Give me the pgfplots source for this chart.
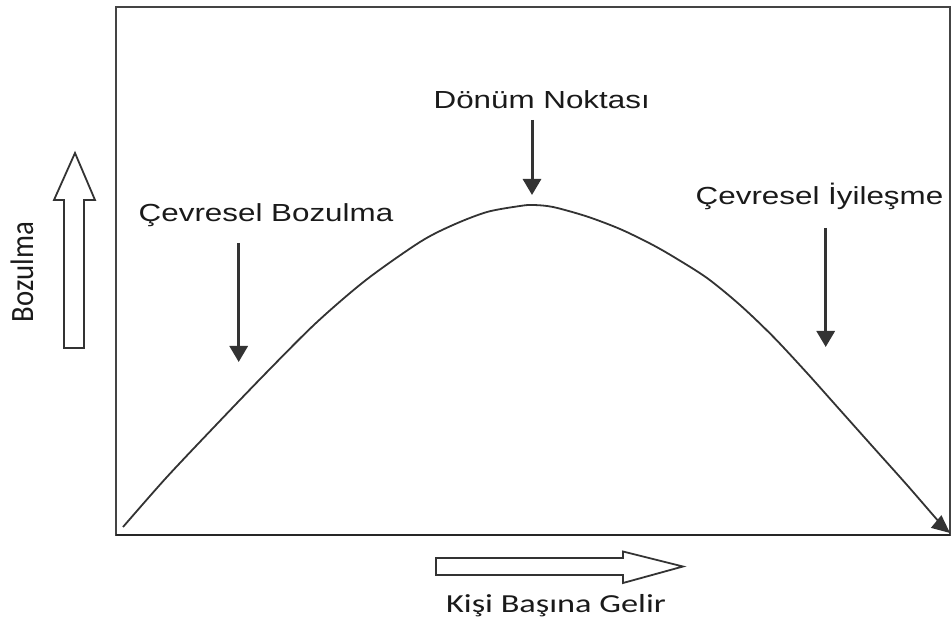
\documentclass[border=0pt]{standalone}
\usepackage{fontspec}
\setmainfont{Liberation Sans}
\newfontfamily\arialx[FakeStretch=1.27]{Liberation Sans}
\newfontfamily\calx[FakeStretch=1.32]{Carlito}
\newfontfamily\calr{Carlito}
\usepackage{pgfplots}
\pgfplotsset{compat=1.18}
\usetikzlibrary{arrows.meta}
\definecolor{ink}{HTML}{1A1A1A}
\definecolor{frame}{HTML}{444444}
\definecolor{curve}{HTML}{333333}
\begin{document}
\begin{tikzpicture}
\begin{axis}[
  scale only axis,
  width=417pt, height=264pt,
  xmin=116, xmax=950, ymin=95, ymax=623,
  axis lines=box,
  xtick=\empty, ytick=\empty,
  axis line style={draw=frame, line width=1pt},
  clip=false,
]
\addplot[curve, line width=0.9pt, smooth, tension=0.5, -{Triangle[length=9pt,width=8pt]}] coordinates {
 (123,103) (166,152) (216,205) (266,257) (316,307) (366,350) (420,388)
 (453,405) (487,418) (520,424) (533,425) (553,423) (587,413.5) (620,401)
 (650,386.5) (673,373.5) (707,352) (740,325) (773,293.5) (807,257)
 (840,220) (873,183) (907,145) (940,107) (950,97)
};
% thicker bottom line
\draw[black!85, line width=1.3pt] (axis cs:116,95) -- (axis cs:950,95);
% pointer arrows
\draw[curve, line width=1.5pt, -{Triangle[length=8pt,width=9pt]}] (axis cs:532,510) -- (axis cs:532,435);
\draw[curve, line width=1.5pt, -{Triangle[length=8pt,width=9pt]}] (axis cs:238.7,387) -- (axis cs:238.7,268);
\draw[curve, line width=1.5pt, -{Triangle[length=8pt,width=9pt]}] (axis cs:825.7,402) -- (axis cs:825.7,283);
% labels
\node[anchor=base, text=ink, inner sep=0pt, font=\arialx\fontsize{12.35}{14}\selectfont] at (axis cs:541.7,521) {Dönüm Noktası};
\node[anchor=base, text=ink, inner sep=0pt, font=\arialx\fontsize{12.35}{14}\selectfont] at (axis cs:266,408) {Çevresel Bozulma};
\node[anchor=base, text=ink, inner sep=0pt, font=\arialx\fontsize{12.35}{14}\selectfont] at (axis cs:819.5,425) {Çevresel İyileşme};
\node[anchor=base, text=ink, inner sep=0pt, font=\calx\fontsize{13}{15}\selectfont] at (axis cs:556,18) {Kişi Başına Gelir};
\node[rotate=90, anchor=center, text=ink, inner sep=0pt, font=\calr\fontsize{14.4}{16}\selectfont] at (axis cs:22,358) {\scalebox{1}[1.13]{Bozulma}};
% hollow arrows
\draw[curve, line width=0.9pt, line join=miter, fill=white] (axis cs:64,282) -- (axis cs:84,282) -- (axis cs:84,430) -- (axis cs:95,430) -- (axis cs:75,477) -- (axis cs:54,430) -- (axis cs:64,430) -- cycle;
\draw[curve, line width=0.9pt, line join=miter, fill=white] (axis cs:436,55) -- (axis cs:623,55) -- (axis cs:623,47) -- (axis cs:683,63.5) -- (axis cs:623,78.5) -- (axis cs:623,72) -- (axis cs:436,72) -- cycle;
\coordinate (BL) at (axis cs:0,0);
\coordinate (TR) at (axis cs:951,630);
\end{axis}
\pgfresetboundingbox
\path[use as bounding box] (BL) rectangle (TR);
\end{tikzpicture}
\end{document}
